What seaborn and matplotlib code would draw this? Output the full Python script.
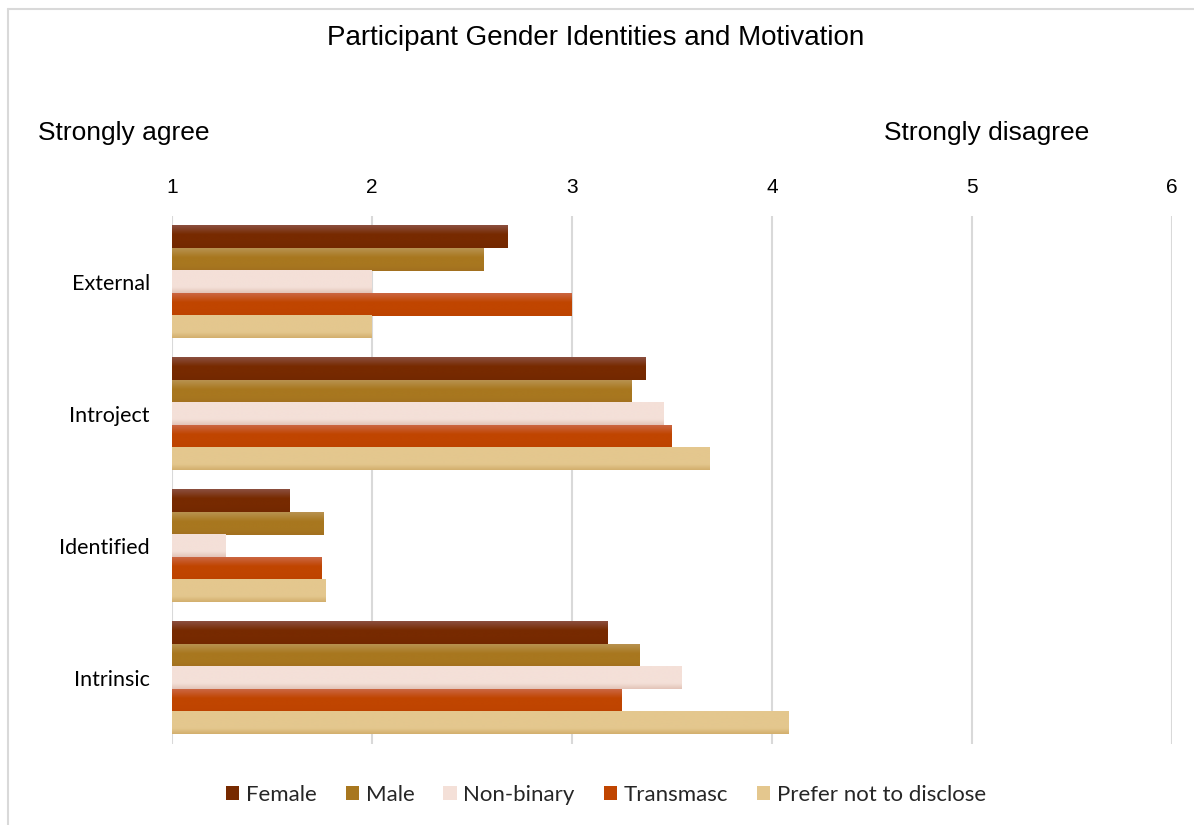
import numpy as np
import pandas as pd
import matplotlib
matplotlib.use("Agg")
import matplotlib.pyplot as plt
import matplotlib.colors as mcolors
import seaborn as sns

# ---- data ----
categories = ["External", "Introject", "Identified", "Intrinsic"]
series = ["Female", "Male", "Non-binary", "Transmasc", "Prefer not to disclose"]
female = [2.68, 3.37, 1.59, 3.18]
male = [2.56, 3.30, 1.76, 3.34]
nonbinary = [2.00, 3.46, 1.27, 3.55]
transmasc = [3.00, 3.50, 1.75, 3.25]
prefer = [2.00, 3.69, 1.77, 4.085]
x_ticks = [1, 2, 3, 4, 5, 6]

values = [female, male, nonbinary, transmasc, prefer]
rows = []
for s, vals in zip(series, values):
    for c, v in zip(categories, vals):
        rows.append({"category": c, "series": s, "value": v})
df = pd.DataFrame(rows)

# ---- style ----
base_colors = ["#772A00", "#A8771F", "#F4E0D8", "#C04500", "#E4C78E"]
top_colors = ["#8B4F3F", "#B89250", "#F4E0D8", "#CB6642", "#E4C78E"]
bottom_colors = ["#722800", "#A27020", "#E3C4B8", "#BD4300", "#D2AF6D"]

sns.set_theme(style="white")
plt.rcParams["font.family"] = ["Liberation Sans", "DejaVu Sans"]

fig = plt.figure(figsize=(11.94, 8.25), dpi=100)
ax = fig.add_axes([172 / 1194, 1 - 744 / 825, 1000 / 1194, 528 / 825])

sns.barplot(data=df, y="category", x="value", hue="series", order=categories,
            hue_order=series, palette=base_colors, width=0.85, orient="h",
            saturation=1, ax=ax, linewidth=0, legend=True)

xmin, xmax = 1, 6
ax.set_xlim(xmin, xmax)
ylim = ax.get_ylim()

# gradient fill on each bar
for i, cont in enumerate(ax.containers):
    cmap = mcolors.LinearSegmentedColormap.from_list(
        f"g{i}", [(0, top_colors[i]), (0.4, base_colors[i]), (0.75, base_colors[i]), (1, bottom_colors[i])])
    grad = np.linspace(0, 1, 64).reshape(-1, 1)
    for p in cont.patches:
        x0, y0 = p.get_x(), p.get_y()
        w, h = p.get_width(), p.get_height()
        left = max(x0, xmin)
        right = x0 + w
        if right <= left:
            continue
        im = ax.imshow(grad, cmap=cmap, aspect="auto",
                       extent=(left, right, y0 + h, y0), origin="upper",
                       interpolation="bilinear", zorder=p.get_zorder() + 0.1)
        im.set_clip_box(ax.bbox)

ax.set_xlim(xmin, xmax)
ax.set_ylim(ylim)

ax.set_xticks(x_ticks)
ax.set_xticklabels([str(t) for t in x_ticks])
ax.xaxis.tick_top()
ax.tick_params(axis="x", length=0, labelsize=15, pad=14, colors="#000000")
ax.tick_params(axis="y", length=0, pad=16)
for lab in ax.get_yticklabels():
    lab.set_fontfamily(["Lato", "DejaVu Sans"])
    lab.set_fontsize(15.5)
    lab.set_color("#000000")
ax.grid(axis="x", color="#D9D9D9", linewidth=1.5)
ax.set_axisbelow(True)
for sp in ax.spines.values():
    sp.set_visible(False)
ax.set_xlabel("")
ax.set_ylabel("")

# legend
handles, labels = ax.get_legend_handles_labels()
ax.legend(handles, labels, loc="center", bbox_to_anchor=(606 / 1194, 1 - 795 / 825),
          bbox_transform=fig.transFigure, ncol=5, frameon=False,
          prop={"family": ["Lato", "DejaVu Sans"], "size": 16},
          handlelength=0.6, handleheight=0.6, handletextpad=0.3, columnspacing=1.3)

fig.text(596 / 1194, 1 - 38 / 825, "Participant Gender Identities and Motivation",
         ha="center", va="center", fontsize=20, color="#000000")
fig.text(38 / 1194, 1 - 133 / 825, "Strongly agree", ha="left", va="center",
         fontsize=19, color="#000000")
fig.text(884 / 1194, 1 - 133 / 825, "Strongly disagree", ha="left", va="center",
         fontsize=19, color="#000000")

# frame lines (left and top)
fig.add_artist(plt.Line2D([7.5 / 1194, 7.5 / 1194], [0, 1 - 9 / 825], transform=fig.transFigure,
                          color="#D9D9D9", linewidth=1.5))
fig.add_artist(plt.Line2D([7.5 / 1194, 1], [1 - 9 / 825, 1 - 9 / 825], transform=fig.transFigure,
                          color="#D9D9D9", linewidth=1.5))

fig.savefig("out.png", dpi=100)
